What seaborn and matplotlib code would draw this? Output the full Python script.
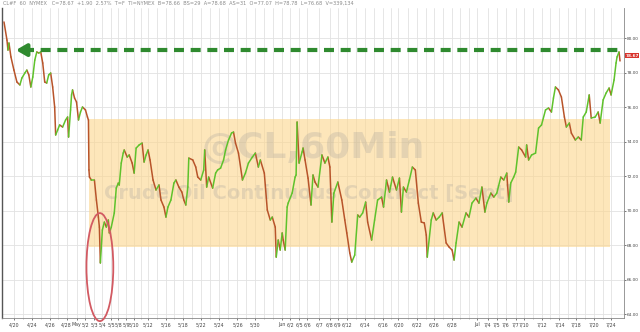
import numpy as np
import pandas as pd
import matplotlib
matplotlib.use("Agg")
import matplotlib.pyplot as plt
from matplotlib.patches import Rectangle, Ellipse
import matplotlib.transforms as mtransforms
import seaborn as sns

# ---- data ----
bar = [2, 5, 6, 7, 9, 12, 15, 18, 20, 23, 25, 27, 29, 31, 33, 35, 37, 39, 41, 43,
       45, 47, 49, 51, 53, 54, 56, 58, 61, 64, 66, 67, 69, 70, 71, 73, 75, 77, 79, 81,
       84, 86, 87, 87.5, 88, 90, 93, 95, 97, 98, 99, 101, 103, 105, 107, 108, 110, 113, 115, 117,
       118, 120, 122, 123, 126, 128, 131, 133, 135, 138, 141, 143, 145, 147, 149, 152, 155, 158, 160, 163,
       165, 167, 170, 173, 175, 178, 181, 183, 185, 187, 188, 192, 195, 197, 200, 203, 204, 206, 208, 212,
       215, 217, 220, 223, 225, 228, 231, 233, 235, 238, 242, 245, 248, 252, 255, 258, 260, 264, 267, 270,
       272, 275, 276, 278, 280, 282, 283, 285, 287, 288, 292, 295, 296, 297, 299, 302, 303, 305, 308, 311,
       313, 315, 318, 322, 325, 328, 330, 332, 334, 338, 342, 345, 347, 350, 352, 355, 358, 360, 363, 366,
       368, 372, 375, 378, 382, 384, 387, 390, 393, 397, 400, 402, 404, 407, 410, 413, 416, 419, 422, 425,
       427, 428, 432, 434, 437, 440, 443, 447, 450, 453, 455, 457, 460, 463, 467, 470, 473, 477, 480, 483,
       486, 488, 492, 495, 498, 502, 505, 508, 510, 512, 515, 517, 520, 523, 527, 528, 530, 533, 537, 540,
       543, 547, 550, 553, 555, 557, 560, 563, 566, 568, 571, 573, 577, 580, 583, 585, 588, 591, 593, 597,
       600, 602, 605, 608, 611, 613, 616, 618, 619, 621, 622]
price = [80.93, 79.88, 79.30, 79.71, 78.90, 78.14, 77.45, 77.28, 77.68, 77.97, 78.14, 77.86, 77.16, 77.74, 78.72, 79.19, 79.13, 79.19, 78.55, 77.45,
         77.39, 77.86, 77.97, 77.16, 76.00, 74.38, 74.67, 74.96, 74.84, 75.25, 75.42, 74.26, 75.83, 76.70, 76.99, 76.52, 76.29, 75.25, 75.71, 76.00,
         75.83, 75.42, 75.25, 72.35, 71.94, 71.77, 71.77, 70.61, 69.62, 69.04, 66.96, 68.87, 69.33, 69.04, 69.45, 68.70, 69.04, 69.86, 71.30, 71.59,
         71.48, 72.75, 73.33, 73.51, 73.10, 73.22, 72.75, 72.17, 73.62, 73.80, 73.91, 72.81, 73.22, 73.51, 72.93, 71.77, 71.19, 71.48, 70.61, 70.20,
         69.62, 70.20, 70.61, 71.59, 71.77, 71.36, 71.07, 70.61, 70.32, 71.36, 73.04, 72.93, 72.52, 71.94, 71.77, 72.35, 73.51, 71.36, 71.94, 71.30,
         72.17, 72.35, 72.46, 72.93, 73.51, 74.09, 74.49, 74.55, 73.91, 73.33, 71.77, 72.17, 72.75, 73.10, 73.33, 72.52, 72.93, 72.17, 70.03, 69.45,
         69.62, 69.04, 67.30, 68.29, 67.71, 68.70, 68.29, 67.71, 70.20, 70.43, 71.01, 71.94, 72.06, 75.13, 72.75, 73.39, 73.62, 72.93, 71.88, 70.32,
         72.06, 71.65, 71.36, 73.22, 72.75, 73.10, 72.52, 69.33, 71.01, 71.65, 70.61, 69.45, 68.70, 67.54, 67.01, 67.42, 69.74, 69.62, 69.86, 70.49,
         69.33, 68.29, 69.45, 70.61, 70.78, 70.20, 71.77, 71.07, 71.94, 71.19, 71.88, 69.91, 71.36, 71.07, 71.77, 72.52, 72.35, 70.43, 69.33, 69.28,
         68.58, 67.30, 69.45, 69.86, 69.45, 69.62, 69.86, 68.12, 67.88, 67.71, 67.13, 68.12, 69.33, 69.04, 69.86, 69.62, 70.43, 70.72, 70.43, 71.36,
         69.91, 70.43, 71.01, 70.78, 71.01, 71.94, 71.77, 72.17, 70.49, 71.59, 71.94, 72.23, 73.68, 73.51, 73.10, 73.80, 72.93, 73.22, 73.33, 74.78,
         74.96, 75.83, 75.94, 75.71, 76.52, 77.16, 76.99, 76.58, 75.42, 74.84, 75.07, 74.49, 74.09, 74.26, 74.09, 75.42, 75.71, 76.70, 75.36, 75.42,
         75.71, 75.07, 76.41, 76.81, 77.10, 76.70, 77.57, 78.55, 78.90, 79.19, 78.67]

tick_pos = [12, 30, 48, 65, 75, 84, 93, 101, 110, 117, 125, 133, 147, 165, 182, 200, 218, 237, 255, 282,
            290, 299, 307, 319, 330, 338, 347, 365, 383, 399, 418, 435, 453, 478, 489, 498, 507, 517, 525, 543,
            561, 578, 596, 613]
tick_labels = ["4/20", "4/24", "4/26", "4/28", "May", "5/2", "5/3", "5/4", "5/5", "5/8", "5/9", "5/10", "5/12",
               "5/16", "5/18", "5/22", "5/24", "5/26", "5/30", "Jun", "6/2", "6/5", "6/6", "6/7", "6/8", "6/9",
               "6/12", "6/14", "6/16", "6/20", "6/22", "6/26", "6/28", "Jul", "7/4", "7/5", "7/6", "7/7", "7/10",
               "7/12", "7/14", "7/18", "7/20", "7/24"]
y_ticks = [64.0, 66.0, 68.0, 70.0, 72.0, 74.0, 76.0, 78.0, 80.0]

last_price = 78.67
resistance_level = 79.30
resistance_span = [14, 620]
range_low, range_high = 67.88, 75.30
range_span = [88, 612]
circle_center = (98.5, 66.72)
circle_size = (27, 6.26)

header = ("CL#F  60  NYMEX   C=78.67  +1.90  2.57%  T=F  TI=NYMEX  B=78.66  BS=29  "
          "A=78.68  AS=31  O=77.07  H=78.78  L=76.68  V=339,134")

# ---- figure ----
sns.set_style("white")
plt.rcParams["font.family"] = ["DejaVu Sans"]

fig = plt.figure(figsize=(6.4, 3.32), dpi=100)
ax = fig.add_axes([2 / 640, 1 - 318 / 332, 622 / 640, 310 / 332])
ax.set_xlim(0, 626)
ax.set_ylim(63.77, 81.74)

# grid
ax.set_xticks(tick_pos)
minor = []
for a, b in zip([0] + tick_pos, tick_pos + [626]):
    n = int(round((b - a) / 9.0))
    if n > 1:
        minor.extend(list(np.linspace(a, b, n + 1)[1:-1]))
ax.set_xticks(minor, minor=True)
ax.grid(which="both", axis="x", color="#e2e2e2", lw=0.6, zorder=0)
ax.set_yticks(y_ticks)
ax.grid(which="major", axis="y", color="#e2e2e2", lw=0.6, zorder=0)
ax.set_axisbelow(True)

# shaded range
ax.add_patch(Rectangle((range_span[0], range_low), range_span[1] - range_span[0],
                       range_high - range_low, facecolor="#fcd68c", alpha=0.6,
                       edgecolor="none", zorder=1))

# watermark
ax.text(313, 73.6, "@CL,60Min", ha="center", va="center", fontsize=26, fontweight="bold",
        color="#9a9a9a", alpha=0.25, zorder=2)
ax.text(309, 71.0, "Crude Oil Continuous Contract [Sept]", ha="center", va="center", fontsize=14,
        fontweight="bold", color="#9a9a9a", alpha=0.25, zorder=2)

# price line, coloured by direction
rows = []
for i in range(len(bar) - 1):
    d = "up" if price[i + 1] >= price[i] else "down"
    rows.append((bar[i], price[i], i, d))
    rows.append((bar[i + 1], price[i + 1], i, d))
df = pd.DataFrame(rows, columns=["bar", "price", "seg", "dir"])
sns.lineplot(data=df, x="bar", y="price", hue="dir", units="seg", estimator=None, sort=False,
             palette={"up": "#5fc22c", "down": "#b8542a"}, lw=1.1, legend=False, ax=ax, zorder=4)

# resistance dashed line with arrow
ax.plot([resistance_span[0] + 8, resistance_span[1]], [resistance_level, resistance_level],
        color="#2f8a2f", lw=3.0, dashes=(2.4, 1.6), solid_capstyle="butt", zorder=5)
ax.annotate("", xy=(resistance_span[0], resistance_level),
            xytext=(resistance_span[0] + 10, resistance_level),
            arrowprops=dict(arrowstyle="-|>,head_length=0.6,head_width=0.35", color="#2f8a2f",
                            lw=3.0, shrinkA=0, shrinkB=0), zorder=5)

# red ellipse
ax.add_patch(Ellipse(circle_center, circle_size[0], circle_size[1], facecolor="none",
                     edgecolor="#d25a62", lw=1.3, zorder=6, clip_on=False))

# axes styling
ax.set_xlabel("")
ax.set_ylabel("")
ax.yaxis.tick_right()
ax.set_yticklabels([f"{v:.2f}" for v in y_ticks])
ax.set_xticklabels(tick_labels)
ax.tick_params(axis="y", which="major", labelsize=3.1, length=1.2, width=0.5, pad=0.6,
               colors="#444444", right=True)
ax.tick_params(axis="x", which="major", labelsize=3.4, length=1.5, width=0.5, pad=1.5,
               colors="#444444", bottom=True)
ax.tick_params(axis="x", which="minor", length=1.0, width=0.4, colors="#888888", bottom=True)
ax.spines["top"].set_visible(False)
ax.spines["left"].set_color("#555555")
ax.spines["left"].set_linewidth(1.0)
ax.spines["right"].set_color("#888888")
ax.spines["right"].set_linewidth(0.6)
ax.spines["bottom"].set_color("#888888")
ax.spines["bottom"].set_linewidth(0.6)

# last price label
trans = mtransforms.blended_transform_factory(ax.transAxes, ax.transData)
ax.text(1.002, last_price + 0.3, f"{last_price:.2f}", transform=trans, ha="left", va="center",
        fontsize=3.1, color="white", fontweight="bold",
        bbox=dict(boxstyle="square,pad=0.15", facecolor="#d8332c", edgecolor="none"), zorder=7,
        clip_on=False)

fig.text(0.004, 0.997, header, ha="left", va="top", fontsize=3.6, color="#8a8a8a")

fig.savefig("out.png", dpi=100)
